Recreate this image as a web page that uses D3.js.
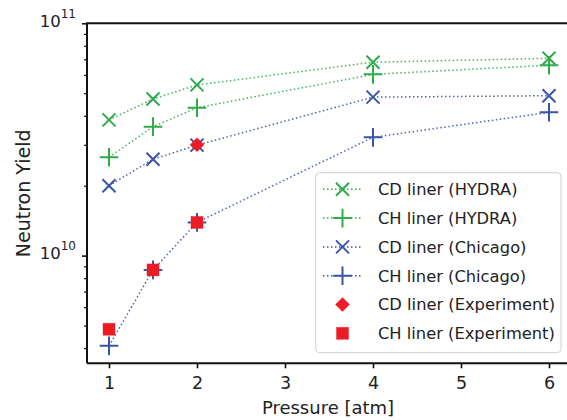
<!DOCTYPE html>
<html>
<head>
<meta charset="utf-8">
<script src="https://cdn.jsdelivr.net/npm/d3@7"></script>
<style>
  html, body { margin: 0; padding: 0; background: #fff; }
  svg { display: block; }
  text { font-family: "DejaVu Sans", sans-serif; fill: #222; }
</style>
</head>
<body>
<svg id="chart" width="567" height="420"></svg>
<script>
// ---- data ----
const pressures = [1, 1.5, 2, 4, 6];
const cdHydra   = [3.84e10, 4.72e10, 5.43e10, 6.8e10, 7.07e10];
const chHydra   = [2.65e10, 3.59e10, 4.33e10, 6.03e10, 6.6e10];
const cdChicago = [2.0e10, 2.6e10, 2.99e10, 4.81e10, 4.88e10];
const chChicago = [4.09e9, 8.68e9, 1.39e10, 3.23e10, 4.14e10];
const cdExpPressures = [2];
const cdExperiment   = [3.0e10];
const chExpPressures = [1, 1.5, 2];
const chExperiment   = [4.82e9, 8.68e9, 1.39e10];
const xTicks = [1, 2, 3, 4, 5, 6];
const yMajorTicks = [1e10, 1e11];
const yMinorTicks = [4e9, 5e9, 6e9, 7e9, 8e9, 9e9, 2e10, 3e10, 4e10, 5e10, 6e10, 7e10, 8e10, 9e10];
const xLabel = "Pressure [atm]";
const yLabel = "Neutron Yield";

const GREEN = "#2fab4a", BLUE = "#3a54a6", RED = "#ec1c24";

const series = [
  {name: "CD liner (HYDRA)", xs: pressures, ys: cdHydra, color: GREEN, marker: "x", line: true},
  {name: "CH liner (HYDRA)", xs: pressures, ys: chHydra, color: GREEN, marker: "+", line: true},
  {name: "CD liner (Chicago)", xs: pressures, ys: cdChicago, color: BLUE, marker: "x", line: true},
  {name: "CH liner (Chicago)", xs: pressures, ys: chChicago, color: BLUE, marker: "+", line: true},
  {name: "CD liner (Experiment)", xs: cdExpPressures, ys: cdExperiment, color: RED, marker: "D", line: false},
  {name: "CH liner (Experiment)", xs: chExpPressures, ys: chExperiment, color: RED, marker: "s", line: false}
];

// ---- layout ----
const L = 87, T = 23.3, B = 363.3, R = 571;
const svg = d3.select("#chart");
const x = d3.scaleLinear().domain([0.75, 6.25]).range([L, R]);
const y = d3.scaleLog().domain([3.44e9, 1e11]).range([B, T]);

function drawMarker(g, type, color) {
  if (type === "x") {
    const h = 6.5;
    g.append("path").attr("d", `M${-h},${-h}L${h},${h}M${-h},${h}L${h},${-h}`)
      .attr("stroke", color).attr("stroke-width", 2).attr("fill", "none");
  } else if (type === "+") {
    const h = 9.3;
    g.append("path").attr("d", `M${-h},0L${h},0M0,${-h}L0,${h}`)
      .attr("stroke", color).attr("stroke-width", 2).attr("fill", "none");
  } else if (type === "D") {
    const h = 7;
    g.append("path").attr("d", `M0,${-h}L${h},0L0,${h}L${-h},0Z`)
      .attr("fill", color).attr("stroke", color).attr("stroke-width", 0.8).attr("stroke-opacity", 0.5);
  } else if (type === "s") {
    const h = 6;
    g.append("rect").attr("x", -h).attr("y", -h).attr("width", 2 * h).attr("height", 2 * h)
      .attr("fill", color).attr("stroke", color).attr("stroke-width", 0.8).attr("stroke-opacity", 0.5);
  }
}

// ---- lines ----
const line = d3.line().x(d => x(d[0])).y(d => y(d[1]));
series.filter(s => s.line).forEach(s => {
  svg.append("path")
    .datum(s.xs.map((v, i) => [v, s.ys[i]]))
    .attr("d", line)
    .attr("fill", "none")
    .attr("stroke", s.color)
    .attr("stroke-width", 1.5)
    .attr("stroke-dasharray", "1.5,2.5")
    .attr("opacity", 0.9);
});
// ---- markers ----
series.forEach(s => {
  s.xs.forEach((v, i) => {
    const g = svg.append("g").attr("transform", `translate(${x(v)},${y(s.ys[i])})`);
    drawMarker(g, s.marker, s.color);
  });
});

// ---- axes ----
const xAxis = svg.append("g").attr("transform", `translate(0,${B})`)
  .call(d3.axisBottom(x).tickValues(xTicks).tickSize(5).tickSizeOuter(0).tickFormat(d3.format("d")));
xAxis.select(".domain").remove();
xAxis.selectAll(".tick line").attr("stroke", "#111").attr("stroke-width", 1.6);
xAxis.selectAll(".tick text").attr("font-size", 17.5).attr("y", 13.5).attr("dy", "0.71em")
  .attr("font-family", "DejaVu Sans").attr("fill", "#222");

const yMajor = svg.append("g").attr("transform", `translate(${L},0)`)
  .call(d3.axisLeft(y).tickValues(yMajorTicks).tickSize(5).tickSizeOuter(0).tickFormat(() => ""));
yMajor.select(".domain").remove();
yMajor.selectAll(".tick line").attr("stroke", "#111").attr("stroke-width", 1.6);
yMajor.selectAll(".tick text").each(function(d) {
  const t = d3.select(this);
  t.text(null).attr("x", -11).attr("dy", "0.32em").attr("font-family", "DejaVu Sans").attr("fill", "#222");
  t.append("tspan").attr("font-size", 16.5).text("10");
  t.append("tspan").attr("font-size", 12).attr("dy", "-0.75em").text(String(Math.round(Math.log10(d))));
});

const yMinor = svg.append("g").attr("transform", `translate(${L},0)`)
  .call(d3.axisLeft(y).tickValues(yMinorTicks).tickSize(3).tickSizeOuter(0).tickFormat(() => ""));
yMinor.select(".domain").remove();
yMinor.selectAll(".tick line").attr("stroke", "#111").attr("stroke-width", 1.2);

// spines
svg.append("path").attr("d", `M${L},${B}L${L},${T}L${R},${T}`).attr("fill", "none").attr("stroke", "#111").attr("stroke-width", 2);
svg.append("path").attr("d", `M${L},${B}L${R},${B}L${R},${T}`).attr("fill", "none").attr("stroke", "#111").attr("stroke-width", 2);

// axis labels
svg.append("text").attr("x", (L + R) / 2 - 1).attr("y", 414).attr("text-anchor", "middle")
  .attr("font-size", 18).text(xLabel);
svg.append("text").attr("transform", `translate(29.5,${(T + B) / 2}) rotate(-90)`)
  .attr("text-anchor", "middle").attr("font-size", 19)
  .attr("textLength", 128).attr("lengthAdjust", "spacingAndGlyphs").text(yLabel);

// ---- legend ----
const lg = svg.append("g");
lg.append("rect").attr("x", 315.7).attr("y", 172.7).attr("width", 245.3).attr("height", 180)
  .attr("rx", 4).attr("fill", "#fff").attr("fill-opacity", 0.85)
  .attr("stroke", "#d0d0d0").attr("stroke-width", 1);
series.forEach((s, i) => {
  const cy = 189.3 + i * 28.8;
  if (s.line) {
    lg.append("line").attr("x1", 323).attr("x2", 361).attr("y1", cy).attr("y2", cy)
      .attr("stroke", s.color).attr("stroke-width", 1.5).attr("stroke-dasharray", "1.5,2.5");
  }
  const g = lg.append("g").attr("transform", `translate(342.5,${cy})`);
  drawMarker(g, s.marker, s.color);
  lg.append("text").attr("x", 378).attr("y", cy).attr("dy", "0.36em")
    .attr("font-size", 16.3).text(s.name);
});
</script>
</body>
</html>
